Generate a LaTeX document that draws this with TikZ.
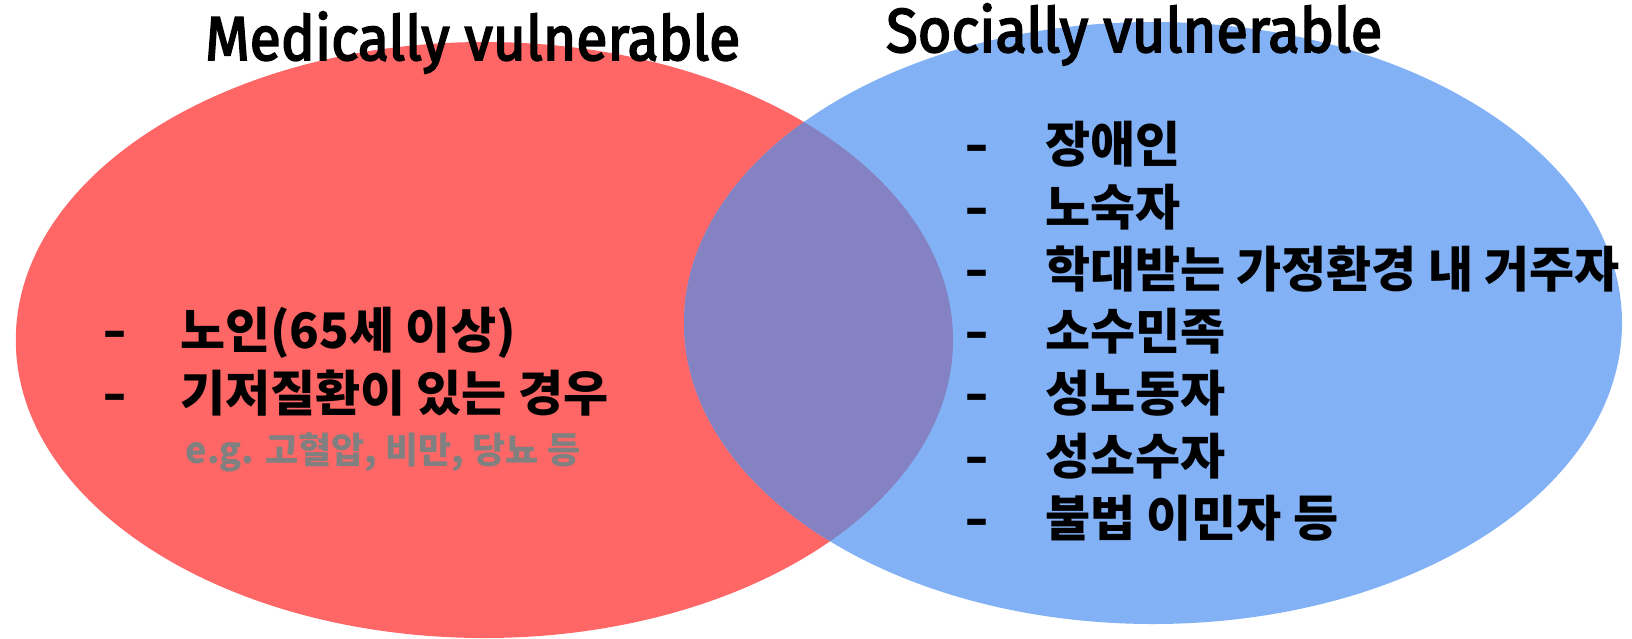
\documentclass[tikz,border=0pt]{standalone}
\usepackage{fontspec}
\usepackage{graphicx}
\setmainfont{Noto Sans CJK KR}
\newfontfamily\titlefont{Fira Sans}[FakeBold=3]
\definecolor{vred}{HTML}{FF6666}
\definecolor{vblue}{HTML}{82B1F5}
\definecolor{vmix}{HTML}{8582C3}
\definecolor{vgray}{HTML}{808080}
\newcommand{\itemdash}{\resizebox{25pt}{\height}{-}}
\tikzset{
  titletext/.style={inner sep=0pt, anchor=base west, font=\titlefont\fontsize{62}{70}\selectfont},
  itemtext/.style={inner sep=0pt, anchor=base west, font=\bfseries\fontsize{49}{55}\selectfont},
  dashtext/.style={inner sep=0pt, anchor=base west, font=\bfseries\fontsize{49}{55}\selectfont},
  notetext/.style={inner sep=0pt, anchor=base, text=vgray, font=\bfseries\fontsize{36}{42}\selectfont}
}
\begin{document}
\begin{tikzpicture}[x=1pt,y=-1pt]
\useasboundingbox (0,0) rectangle (1632,638);
% circles
\fill[vred] (484.4,340) ellipse [x radius=468.6, y radius=298];
\fill[vblue] (1153,323) ellipse [x radius=469, y radius=301];
\begin{scope}
  \clip (484.4,340) ellipse [x radius=468.6, y radius=298];
  \fill[vmix] (1153,323) ellipse [x radius=469, y radius=301];
\end{scope}
% titles
\node[titletext] (tmed) at (205,60) {\resizebox{535pt}{\height}{Medically vulnerable}};
\node[titletext] (tsoc) at (886,52) {\resizebox{496pt}{\height}{Socially vulnerable}};
% left list
\node[dashtext] (ld1) at (102,348) {\itemdash};
\node[itemtext] (l1) at (180,348) {노인(65세 이상)};
\node[dashtext] (ld2) at (102,411) {\itemdash};
\node[itemtext] (l2) at (180,411) {기저질환이 있는 경우};
\node[notetext] (l3) at (383,463) {e.g. 고혈압, 비만, 당뇨 등};
% right list
\node[dashtext] (rd1) at (964,162) {\itemdash};
\node[itemtext] (r1) at (1045,162) {장애인};
\node[dashtext] (rd2) at (964,225) {\itemdash};
\node[itemtext] (r2) at (1045,225) {노숙자};
\node[dashtext] (rd3) at (964,287) {\itemdash};
\node[itemtext] (r3) at (1045,287) {학대받는 가정환경 내 거주자};
\node[dashtext] (rd4) at (964,349) {\itemdash};
\node[itemtext] (r4) at (1045,349) {소수민족};
\node[dashtext] (rd5) at (964,411) {\itemdash};
\node[itemtext] (r5) at (1045,411) {성노동자};
\node[dashtext] (rd6) at (964,474) {\itemdash};
\node[itemtext] (r6) at (1045,474) {성소수자};
\node[dashtext] (rd7) at (964,536) {\itemdash};
\node[itemtext] (r7) at (1045,536) {불법 이민자 등};
\end{tikzpicture}
\end{document}
